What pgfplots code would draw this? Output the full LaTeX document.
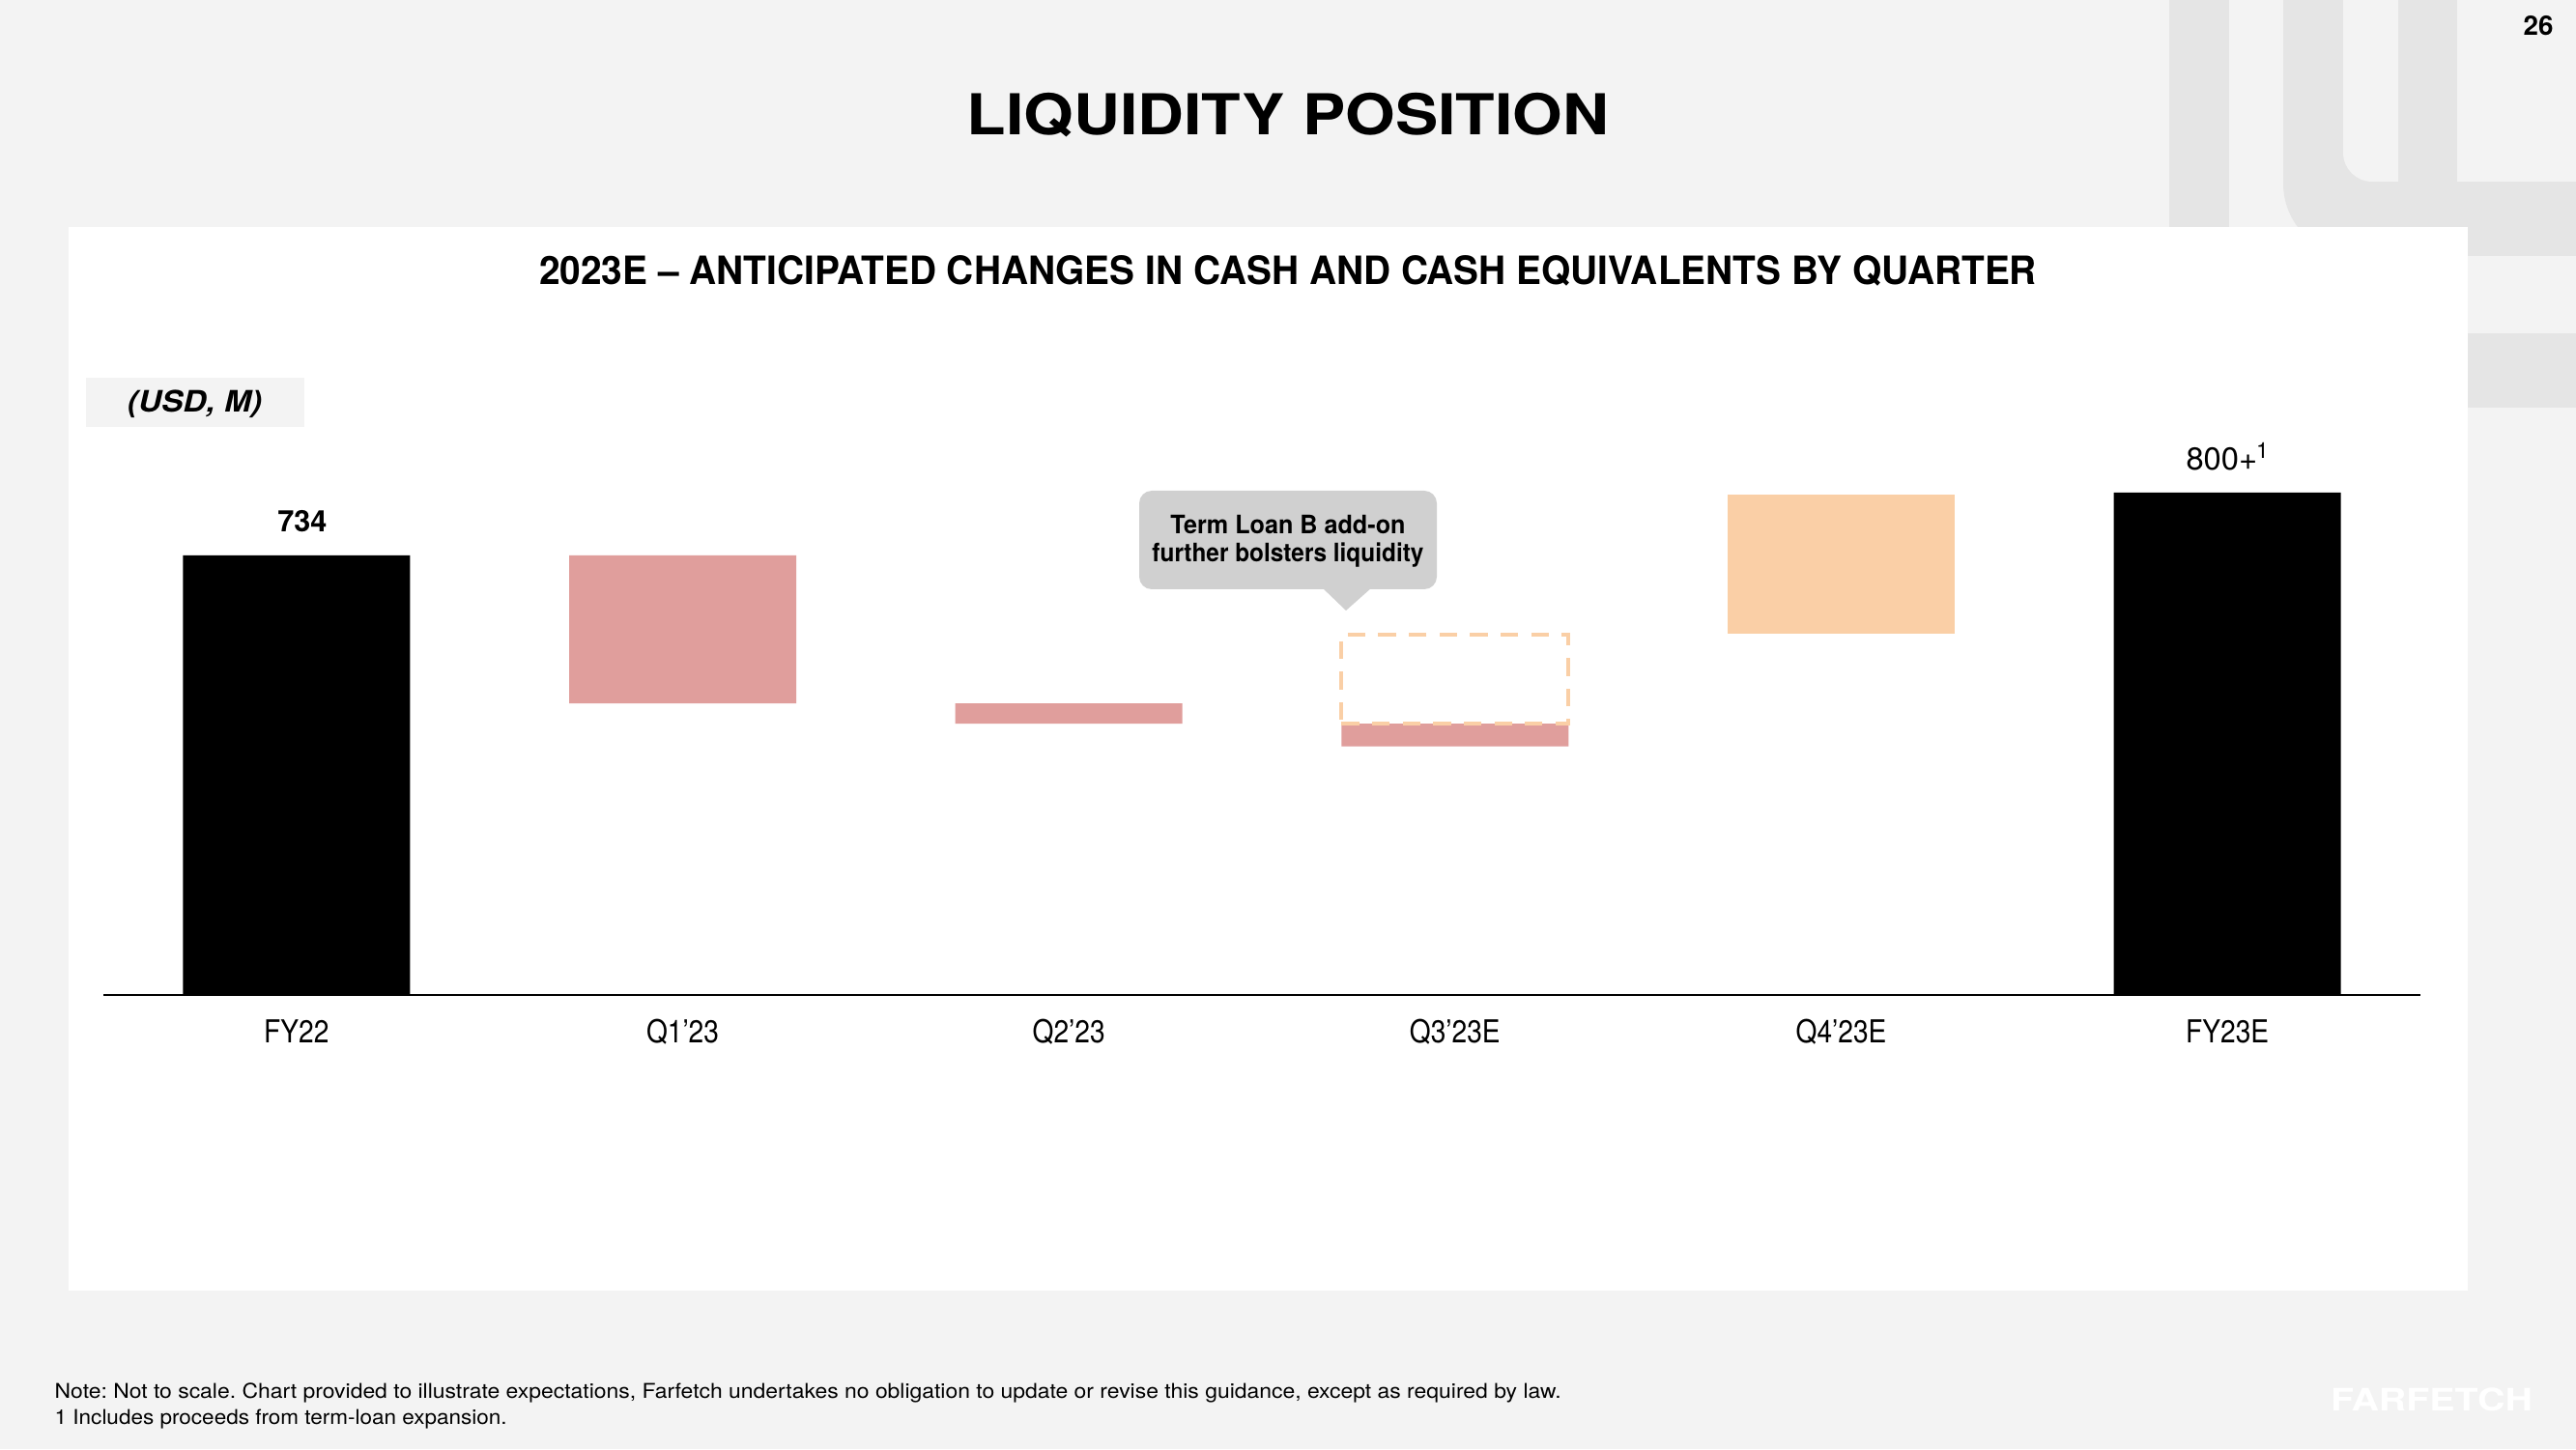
\documentclass[border=0pt]{standalone}
\usepackage{pgfplots}
\pgfplotsset{compat=1.18}
\usepackage{fontspec}
\setmainfont{TeX Gyre Heros}
\usepackage{graphicx}
\definecolor{pagebg}{HTML}{F3F3F3}
\definecolor{deco}{HTML}{E5E5E5}
\definecolor{pinkbar}{HTML}{E09E9C}
\definecolor{peach}{HTML}{FACFA6}
\definecolor{callout}{HTML}{D0D0D0}
\newcommand{\fitw}[2]{\resizebox{#1}{\height}{#2}}
\frenchspacing
\begin{document}
\begin{tikzpicture}
\useasboundingbox (0,0) rectangle (26.66,15);
\fill[pagebg] (0,0) rectangle (26.66,15);
% decorative background shapes
\fill[deco] (22.45,12.4) rectangle (23.07,15);
\fill[deco, rounded corners=0.75cm] (23.63,12.35) rectangle (27.6,16.5);
\fill[pagebg, rounded corners=0.3cm] (24.25,13.12) rectangle (25.2,16.5);
\fill[deco] (24.82,13.12) rectangle (25.43,15.2);
\fill[pagebg] (25.43,13.12) rectangle (26.8,15.2);
\fill[deco] (25.0,10.78) rectangle (26.8,11.55);
% white panel
\fill[white] (0.71,1.64) rectangle (25.54,12.65);
% page number and titles
\node[anchor=base, inner sep=0, font=\bfseries\fontsize{7.9}{9}\selectfont] at (26.27,14.63) {26};
\node[anchor=base, inner sep=0, font=\bfseries\fontsize{16.6}{18}\selectfont] at (13.33,13.60) {\fitw{6.65cm}{LIQUIDITY POSITION}};
\node[anchor=base, inner sep=0, font=\bfseries\fontsize{11.5}{13}\selectfont] at (13.33,12.05) {\fitw{15.50cm}{2023E – ANTICIPATED CHANGES IN CASH AND CASH EQUIVALENTS BY QUARTER}};
% unit box
\fill[pagebg] (0.89,10.58) rectangle (3.15,11.09);
\node[anchor=base, inner sep=0, font=\bfseries\itshape\fontsize{8.7}{10}\selectfont] at (2.015,10.73) {\fitw{1.39cm}{(USD, M)}};
% chart
\begin{axis}[
  at={(1.07cm,4.70cm)}, anchor=south west,
  scale only axis, width=23.98cm, height=5.5cm,
  xmin=-0.5, xmax=5.5, ymin=0, ymax=887.25,
  ybar stacked, bar width=2.35cm,
  axis x line*=bottom, axis y line=none,
  x axis line style={line width=0.75pt, -},
  xtick={0,1,2,3,4,5},
  xticklabels={FY22,Q1'23,Q2'23,Q3'23E,Q4'23E,FY23E},
  major tick length=0pt,
  xticklabel style={font=\fontsize{9.3}{11}\selectfont, anchor=base, yshift=-14.2pt, xscale=0.86},
  clip=false,
]
\addplot[draw=none, fill=none] coordinates {(0,0) (1,487) (2,453) (3,415) (4,603) (5,0)};
\addplot[draw=none, fill=black] coordinates {(0,734) (1,0) (2,0) (3,0) (4,0) (5,839)};
\addplot[draw=none, fill=pinkbar] coordinates {(0,0) (1,247) (2,34) (3,38) (4,0) (5,0)};
\addplot[draw=none, fill=peach] coordinates {(0,0) (1,0) (2,0) (3,0) (4,233) (5,0)};
\node[anchor=base, inner sep=0, font=\bfseries\fontsize{8.7}{10}\selectfont, yshift=7.1pt, xshift=1.7pt] at (axis cs:0,734) {734};
\node[anchor=base, inner sep=0, font=\fontsize{9.3}{11}\selectfont, yshift=6.8pt] at (axis cs:5,839) {800+\kern-0.3pt\raisebox{3.2pt}{\fontsize{6.5}{7}\selectfont 1}};
\end{axis}
\begin{axis}[
  at={(1.07cm,4.70cm)}, anchor=south west,
  scale only axis, width=23.98cm, height=5.5cm,
  xmin=-0.5, xmax=5.5, ymin=0, ymax=887.25,
  hide axis, clip=false,
]
\addplot[peach, line width=1.1pt, dash pattern=on 5.2pt off 3.8pt] coordinates {(2.706,453) (3.294,453) (3.294,602) (2.706,602)} -- cycle;
\end{axis}
% callout
\fill[callout, rounded corners=0.13cm] (11.79,8.90) rectangle (14.87,9.92);
\fill[callout] (13.68,8.92) -- (13.93,8.68) -- (14.20,8.92) -- cycle;
\node[anchor=base, inner sep=0, font=\bfseries\fontsize{7.5}{9}\selectfont] at (13.33,9.47) {\fitw{2.43cm}{Term Loan B add-on}};
\node[anchor=base, inner sep=0, font=\bfseries\fontsize{7.5}{9}\selectfont] at (13.33,9.18) {\fitw{2.81cm}{further bolsters liquidity}};
% footnotes and logo
\node[anchor=base west, inner sep=0, font=\fontsize{6}{7}\selectfont] at (0.56,0.53) {\fitw{15.59cm}{Note: Not to scale. Chart provided to illustrate expectations, Farfetch undertakes no obligation to update or revise this guidance, except as required by law.}};
\node[anchor=base west, inner sep=0, font=\fontsize{6}{7}\selectfont] at (0.56,0.26) {\fitw{4.68cm}{1 Includes proceeds from term-loan expansion.}};
\node[anchor=base, inner sep=0, text=white, font=\bfseries\fontsize{9.1}{10}\selectfont] at (25.165,0.40) {\fitw{2.09cm}{FARFETCH}};
\end{tikzpicture}
\end{document}
